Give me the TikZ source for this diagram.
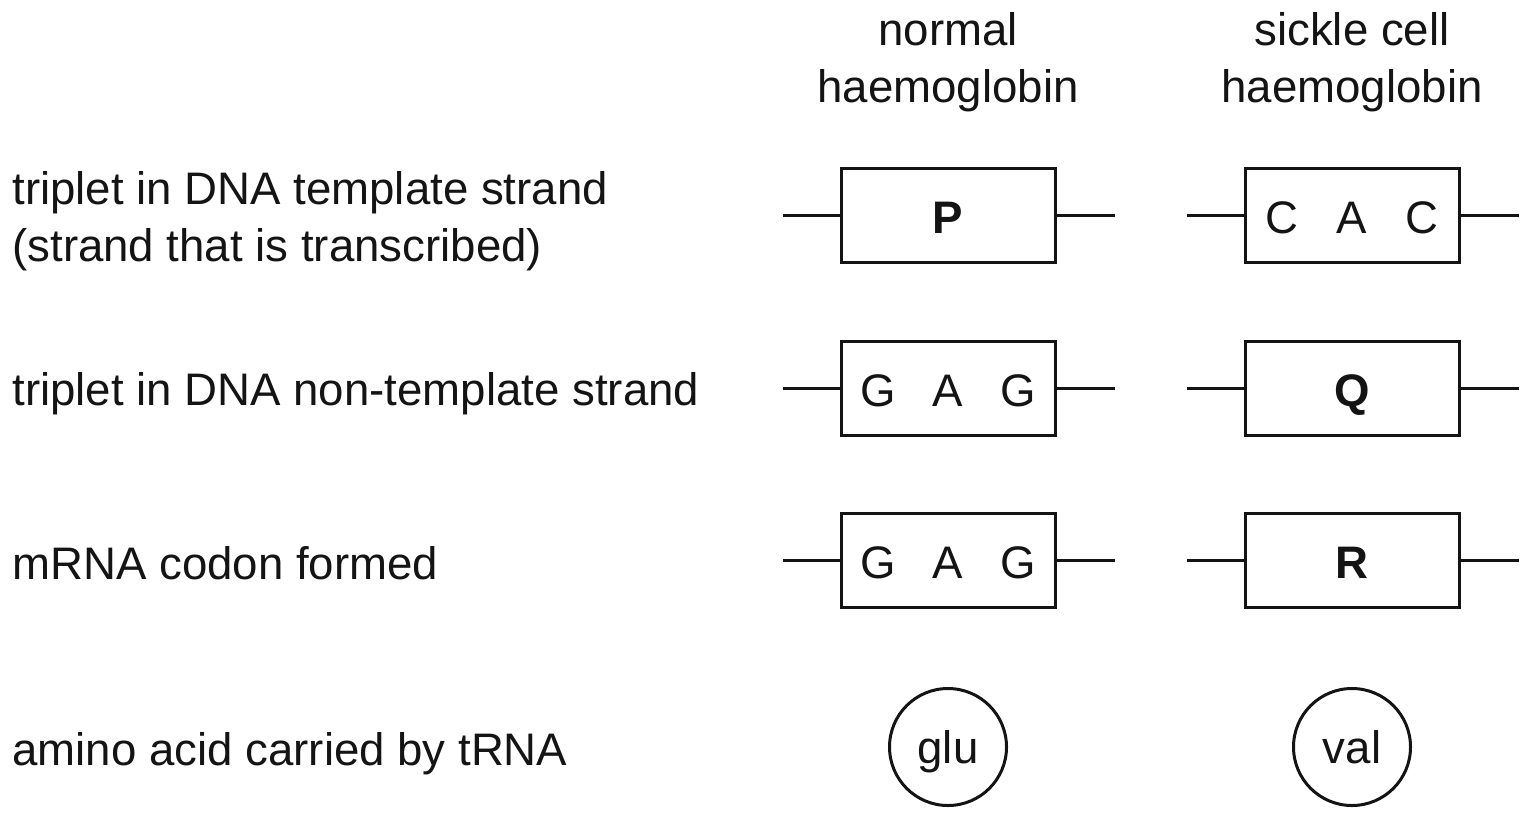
\documentclass[tikz,border=0pt]{standalone}
\usepackage{fontspec}
\setmainfont{Liberation Sans}
\usetikzlibrary{positioning}
\definecolor{inkblk}{gray}{0.08}
\newcommand{\labfont}{\fontsize{22.8}{28.5}\selectfont}
\newcommand{\trip}[3]{\makebox[35pt]{#1}\makebox[35pt]{#2}\makebox[35pt]{#3}}
\tikzset{
  rowlab/.style  = {anchor=west, align=left, inner sep=0pt, font=\labfont,
                    text=inkblk},
  colhead/.style = {align=center, inner sep=0pt, font=\labfont, text=inkblk},
  codon/.style   = {draw=inkblk, line width=1.5pt, minimum width=107pt,
                    minimum height=47pt, inner sep=0pt, font=\labfont,
                    text=inkblk, text height=18.6pt, text depth=0pt},
  amino/.style   = {circle, draw=inkblk, line width=1.5pt, minimum size=58.5pt,
                    inner sep=0pt, font=\labfont, text=inkblk,
                    text height=16.4pt, text depth=0pt},
  strand/.style  = {draw=inkblk, line width=1.5pt},
}

\begin{document}
\begin{tikzpicture}[x=0.5pt, y=-0.5pt]
  \useasboundingbox (0,0) rectangle (1531,820);
  \node[colhead] (hnorm) at (948,62) {normal\\haemoglobin};
  \node[colhead] (hsick) at (1352,62) {sickle cell\\haemoglobin};
  \node[rowlab] (ltemp) at (12,221) {triplet in DNA template strand\\(strand that is transcribed)};
  \node[rowlab] (lnont) at (12,394) {triplet in DNA non-template strand};
  \node[rowlab] (lmrna) at (12,563) {mRNA codon formed};
  \node[rowlab] (ltrna) at (12,754) {amino acid carried by tRNA};
  \node[codon] (ntemp) at (948,215) {\textbf{P}};
  \node[codon] (nnont) at (948,388) {\trip{G}{A}{G}};
  \node[codon] (nmrna) at (948,560) {\trip{G}{A}{G}};
  \node[codon] (stemp) at (1352,215) {\trip{C}{A}{C}};
  \node[codon] (snont) at (1352,388) {\textbf{Q}};
  \node[codon] (smrna) at (1352,560) {\textbf{R}};
  \node[amino] (nglu) at (948,747) {glu};
  \node[amino] (sval) at (1352,747) {val};
  \foreach \b in {ntemp,nnont,nmrna,stemp,snont,smrna}
    \draw[strand] (\b.west) -- ++(-57,0) (\b.east) -- ++(58,0);
\end{tikzpicture}
\end{document}
